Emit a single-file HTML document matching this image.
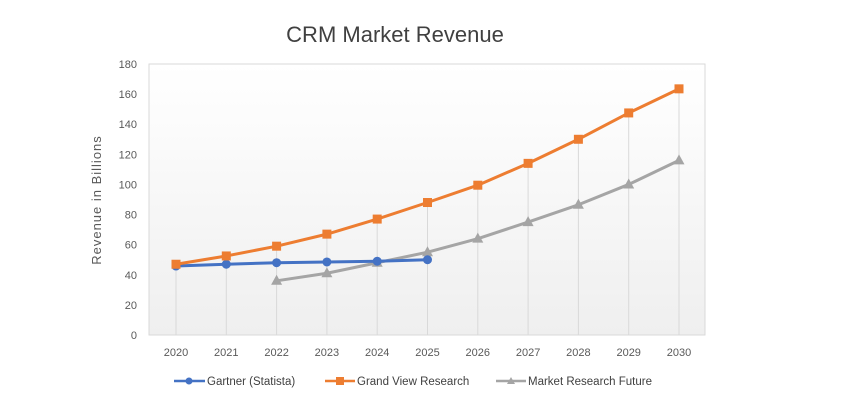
<!DOCTYPE html>
<html><head><meta charset="utf-8"><style>
body{margin:0;background:#fff;font-family:"Liberation Sans",sans-serif}
</style></head><body>
<svg id="chart" width="844" height="410" xmlns="http://www.w3.org/2000/svg">
<defs><linearGradient id="bg" x1="0" y1="0" x2="0" y2="1"><stop offset="0" stop-color="#fff"/><stop offset="1" stop-color="#efefef"/></linearGradient></defs>
<text x="395" y="42" text-anchor="middle" font-size="22" fill="#404040">CRM Market Revenue</text>
<rect x="149" y="64" width="556" height="271" fill="url(#bg)" stroke="#d9d9d9"/>
<text transform="translate(101,200) rotate(-90)" text-anchor="middle" font-size="13" fill="#595959" letter-spacing="1">Revenue in Billions</text>
<g id="ticks"></g><g id="drops"></g><g id="series"></g>
<g font-size="11.5" fill="#404040">
<line x1="174" y1="381" x2="205" y2="381" stroke="#4472c4" stroke-width="2.5"/><circle cx="189" cy="381" r="3.5" fill="#4472c4"/>
<text x="207" y="385">Gartner (Statista)</text>
<line x1="325" y1="381" x2="355" y2="381" stroke="#ed7d31" stroke-width="2.5"/><rect x="336" y="377" width="8" height="8" fill="#ed7d31"/>
<text x="357" y="385">Grand View Research</text>
<line x1="496" y1="381" x2="526" y2="381" stroke="#a5a5a5" stroke-width="2.5"/><path d="M511 377 L515 384 L507 384Z" fill="#a5a5a5"/>
<text x="528" y="385">Market Research Future</text>
</g>
</svg>
<script>
const years=[2020,2021,2022,2023,2024,2025,2026,2027,2028,2029,2030];
const gartner=[45.8,47,48,48.5,49,50,null,null,null,null,null];
const grandView=[47,52.5,59,67,77,88,99.5,114,130,147.5,163.5];
const mrf=[null,null,36,41,48,55,64,75,86.5,100,116];
const yTicks=[0,20,40,60,80,100,120,140,160,180];
const NS="http://www.w3.org/2000/svg";
const x=i=>176+i*50.3, y=v=>335-v*(271/180);
function mk(t,a,p){const e=document.createElementNS(NS,t);for(const k in a)e.setAttribute(k,a[k]);p.appendChild(e);return e;}
const tg=document.getElementById('ticks');
yTicks.forEach(v=>{const t=mk('text',{x:137,y:y(v)+4,'text-anchor':'end','font-size':11,fill:'#595959'},tg);t.textContent=v;

});
years.forEach((yr,i)=>{const t=mk('text',{x:x(i),y:356,'text-anchor':'middle','font-size':11,fill:'#595959'},tg);t.textContent=yr;

});
const dg=document.getElementById('drops');
years.forEach((yr,i)=>{const vals=[gartner[i],grandView[i],mrf[i]].filter(v=>v!=null);const m=Math.max(...vals);
const l=mk('line',{x1:x(i),x2:x(i),y1:y(m),y2:335,stroke:'#d9d9d9','stroke-width':1},dg);

});
const sg=document.getElementById('series');
function series(arr,color,shape,name){
 const pts=arr.map((v,i)=>v==null?null:[x(i),y(v)]).filter(p=>p);
 const pl=mk('polyline',{points:pts.map(p=>p.join(',')).join(' '),fill:'none',stroke:color,'stroke-width':3,'stroke-linejoin':'round'},sg);
 
 
 pts.forEach(([px,py])=>{let e;
  if(shape==='c')e=mk('circle',{cx:px,cy:py,r:4.5,fill:color},sg);
  else if(shape==='s')e=mk('rect',{x:px-4.5,y:py-4.5,width:9,height:9,fill:color},sg);
  else e=mk('path',{d:`M${px} ${py-6}L${px+5.5} ${py+4}L${px-5.5} ${py+4}Z`,fill:color},sg);
  
  });
}
series(mrf,'#a5a5a5','t','market-research-future');
series(gartner,'#4472c4','c','gartner');
series(grandView,'#ed7d31','s','grand-view');
</script>
</body></html>
